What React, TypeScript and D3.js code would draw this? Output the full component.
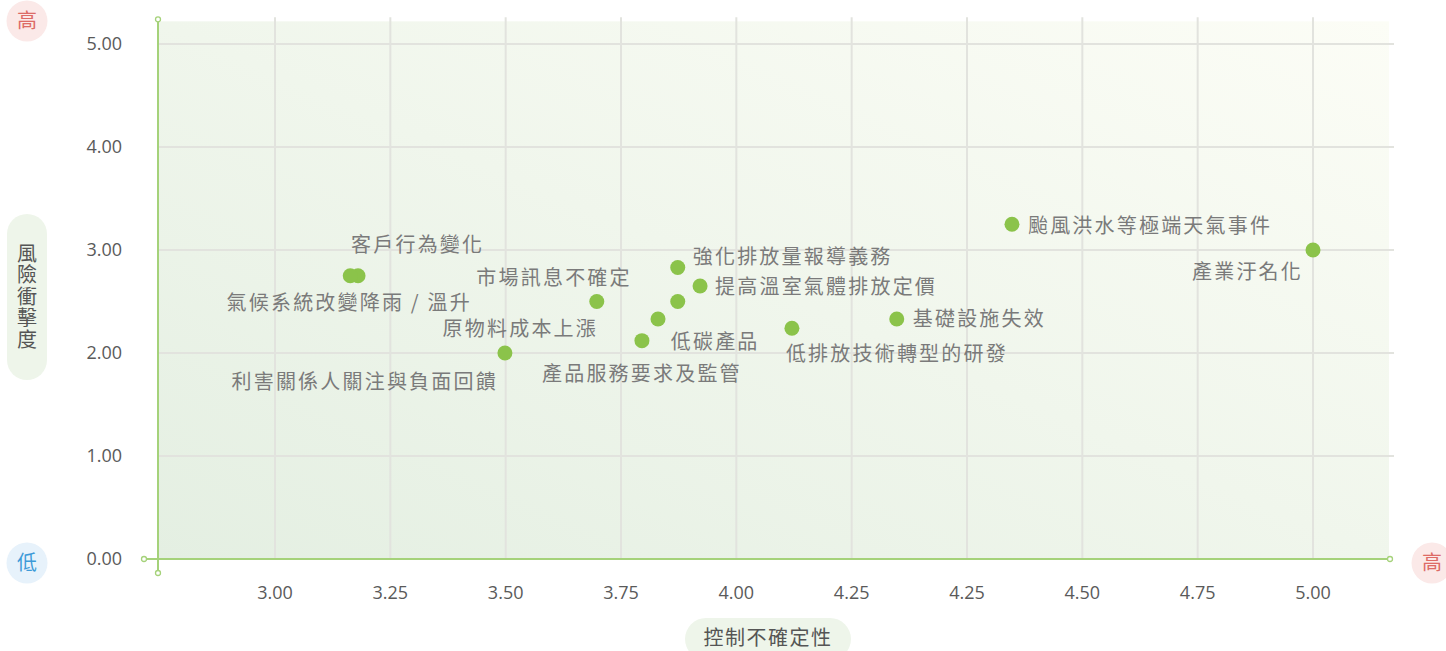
import React from "react";
import * as d3 from "d3";

// ---- data ----
const riskNames: string[] = [
  "客戶行為變化",
  "氣候系統改變降雨 / 溫升",
  "利害關係人關注與負面回饋",
  "市場訊息不確定",
  "原物料成本上漲",
  "強化排放量報導義務",
  "提高溫室氣體排放定價",
  "低碳產品",
  "產品服務要求及監管",
  "低排放技術轉型的研發",
  "基礎設施失效",
  "颱風洪水等極端天氣事件",
  "產業汙名化",
];
// control uncertainty (x)
const controlValues: number[] = [
  3.16, 3.145, 3.443, 3.62, 3.738, 3.776, 3.819, 3.776, 3.707, 3.996, 4.198, 4.42, 5.0,
];
// risk impact (y)
const impactValues: number[] = [
  2.75, 2.75, 2.0, 2.5, 2.33, 2.83, 2.65, 2.5, 2.12, 2.24, 2.33, 3.25, 3.0,
];
const xTickLabels: string[] = ["3.00", "3.25", "3.50", "3.75", "4.00", "4.25", "4.25", "4.50", "4.75", "5.00"];
const yTickValues: number[] = [0, 1, 2, 3, 4, 5];
const xTitle = "控制不確定性";
const yTitle = "風險衝擊度";

// label placement (layout only): dx, dy relative to the point, text-anchor
const labelLayout: [number, number, string][] = [
  [-7, -31, "start"],
  [-1, 27, "middle"],
  [-7, 29, "end"],
  [35, -24, "end"],
  [-60, 10, "end"],
  [15, -11, "start"],
  [15, 1, "start"],
  [-7, 40, "start"],
  [0, 33, "middle"],
  [-6, 26, "start"],
  [16, 0, "start"],
  [16, 2, "start"],
  [-10, 22, "end"],
];

const W = 1446;
const H = 651;
const left = 158;
const right = 1390;
const bottom = 559;

export default function App() {
  const xTickVals = xTickLabels.map((_, i) => 3 + (i * 2) / (xTickLabels.length - 1));
  const x = d3.scaleLinear().domain([3, 5]).range([275, 1313]);
  const y = d3.scaleLinear().domain([0, 5]).range([bottom, 44]);
  const top = y(5.22);
  const green = "#8bc34a";
  const axisGreen = "#a5d27a";
  const cjk = "'Noto Sans CJK TC', 'Noto Sans', sans-serif";
  const num = "'Open Sans', 'Lato', sans-serif";

  return (
    <svg width={W} height={H} style={{ position: "absolute", left: 0, top: 0, display: "block" }}>
      <defs>
        <linearGradient id="bg" x1="0" y1="1" x2="1" y2="0">
          <stop offset="0%" stopColor="#e4efe2" />
          <stop offset="100%" stopColor="#fcfdf6" />
        </linearGradient>
      </defs>
      <rect x={left} y={top} width={right - 1 - left} height={bottom - top} fill="url(#bg)" />
      {/* grid */}
      {yTickValues.filter((v) => v > 0).map((v) => (
        <line key={"gy" + v} x1={left} x2={right + 4} y1={y(v)} y2={y(v)} stroke="#e2e3de" strokeWidth={2} />
      ))}
      {xTickVals.map((v, i) => (
        <line key={"gx" + i} x1={x(v)} x2={x(v)} y1={top - 4} y2={bottom} stroke="#e2e3de" strokeWidth={2} />
      ))}
      {/* axes */}
      <line x1={left} x2={left} y1={top - 2} y2={bottom + 14} stroke={axisGreen} strokeWidth={2} />
      <line x1={left - 14} x2={right} y1={bottom} y2={bottom} stroke={axisGreen} strokeWidth={2} />
      {[
        [left, top - 2],
        [left, bottom + 14],
        [left - 14, bottom],
        [right, bottom],
      ].map(([cx, cy], i) => (
        <circle key={"ac" + i} cx={cx} cy={cy} r={2.5} fill="#fff" stroke={axisGreen} strokeWidth={1.3} />
      ))}
      {/* tick labels */}
      {yTickValues.map((v) => (
        <text key={"ty" + v} x={122} y={y(v)} dy="0.35em" textAnchor="end" fontFamily={num} fontSize={18} fill="#5a5a5a">
          {v.toFixed(2)}
        </text>
      ))}
      {xTickVals.map((v, i) => (
        <text key={"tx" + i} x={x(v)} y={593} dy="0.35em" textAnchor="middle" fontFamily={num} fontSize={18} fill="#5a5a5a">
          {xTickLabels[i]}
        </text>
      ))}
      {/* corner badges */}
      <circle cx={27} cy={21} r={20.5} fill="#fbe9e8" />
      <text x={27} y={21} dy="0.36em" textAnchor="middle" fontFamily={cjk} fontSize={20} fill="#dd6b66">高</text>
      <circle cx={27} cy={563} r={20.5} fill="#e7f2fb" />
      <text x={27} y={563} dy="0.36em" textAnchor="middle" fontFamily={cjk} fontSize={20} fill="#3d9ad8">低</text>
      <circle cx={1432} cy={563} r={20.5} fill="#fbe9e8" />
      <text x={1432} y={563} dy="0.36em" textAnchor="middle" fontFamily={cjk} fontSize={20} fill="#dd6b66">高</text>
      {/* axis titles */}
      <rect x={7} y={214} width={40} height={166} rx={20} fill="#eef5ea" />
      <text
        x={27}
        y={297}
        textAnchor="middle"
        fontFamily={cjk}
        fontSize={20}
        fill="#555"
        letterSpacing={1.5}
        style={{ writingMode: "vertical-rl" } as React.CSSProperties}
      >
        {yTitle}
      </text>
      <rect x={685} y={618} width={166} height={42} rx={21} fill="#eef5ea" />
      <text x={768} y={638} dy="0.36em" textAnchor="middle" fontFamily={cjk} fontSize={20} fill="#555" letterSpacing={1.5}>
        {xTitle}
      </text>
      {/* points */}
      {riskNames.map((name, i) => (
        <circle key={"p" + i} cx={x(controlValues[i])} cy={y(impactValues[i])} r={7.5} fill={green} />
      ))}
      {riskNames.map((name, i) => {
        const [dx, dy, anchor] = labelLayout[i];
        return (
          <text
            key={"l" + i}
            x={x(controlValues[i]) + dx}
            y={y(impactValues[i]) + dy}
            dy="0.36em"
            textAnchor={anchor}
            fontFamily={cjk}
            fontSize={20}
            letterSpacing={2.2}
            fill="#7a7a7a"
          >
            {name}
          </text>
        );
      })}
    </svg>
  );
}
